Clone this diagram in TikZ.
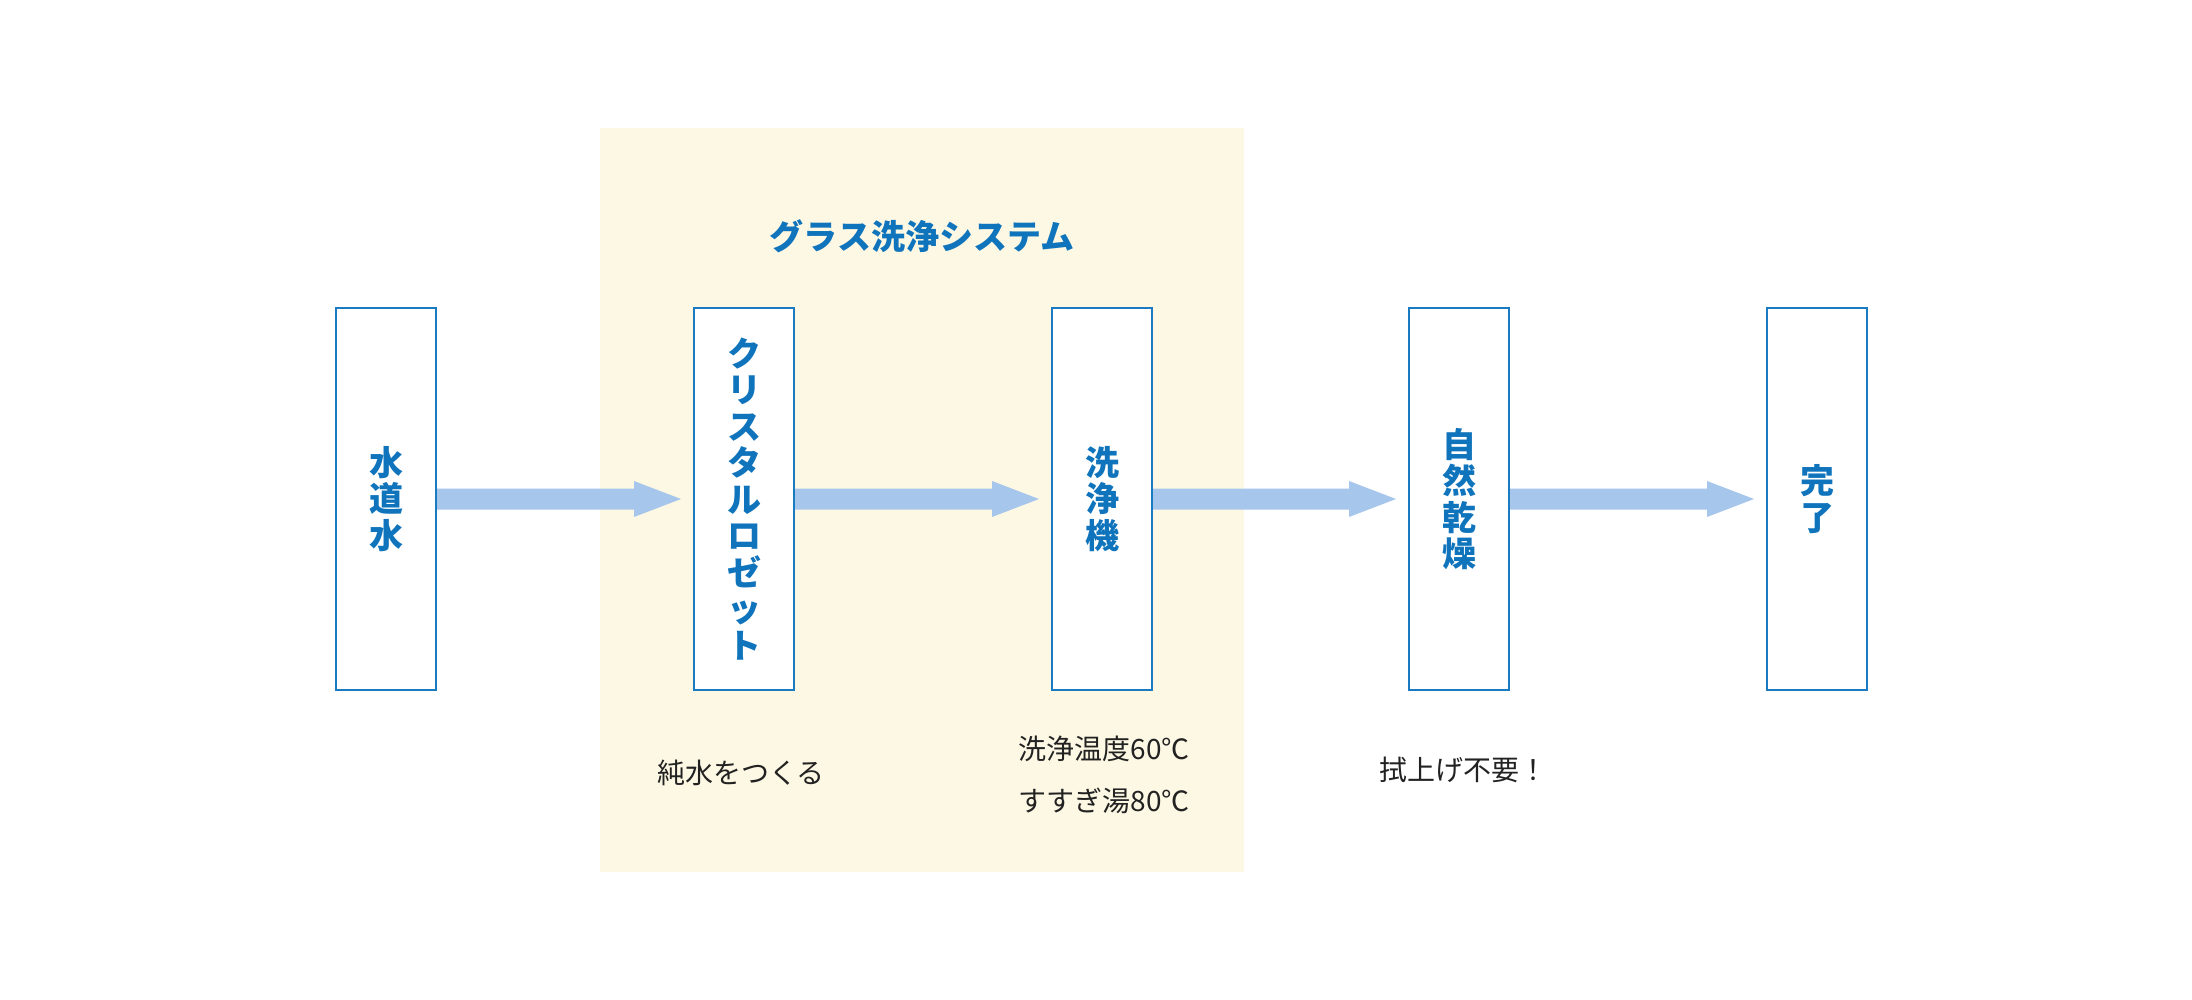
\documentclass[tikz,border=0pt]{standalone}
\usepackage{fontspec}
\newfontfamily\jp{Noto Sans CJK JP}
\usetikzlibrary{calc}
\definecolor{boxblue}{HTML}{1A7BC3}
\definecolor{txtblue}{HTML}{0F74BC}
\definecolor{arrowblue}{HTML}{A7C6EC}
\definecolor{sysyellow}{HTML}{FDF8E3}
\definecolor{darktext}{HTML}{222222}
\tikzset{
  stagebox/.style={draw=boxblue, line width=2pt, fill=white, minimum width=100pt, minimum height=382pt, inner sep=0pt,
    text=txtblue, font=\jp\bfseries\fontsize{34}{36.5}\selectfont, align=center},
  notetext/.style={text=darktext, font=\jp\fontsize{28}{52}\selectfont, align=center, inner sep=0pt},
  titletext/.style={text=txtblue, font=\jp\bfseries\fontsize{34}{40}\selectfont, inner sep=0pt},
  arrowfill/.style={fill=arrowblue, draw=none}
}
\newcommand\flowarrow[2]{%
  \path let \p1=(#1.east), \p2=(#2.west) in
    [arrowfill] (\x1,\y1-10.5pt) -- (\x2-59pt,\y1-10.5pt) -- (\x2-59pt,\y1-18pt) -- (\x2-12pt,\y1)
    -- (\x2-59pt,\y1+18pt) -- (\x2-59pt,\y1+10.5pt) -- (\x1,\y1+10.5pt) -- cycle;}
\begin{document}
\begin{tikzpicture}[x=1pt,y=-1pt]
\useasboundingbox[fill=white] (0,0) rectangle (2192,1000);
\fill[sysyellow] (600,128) rectangle (1244,872);
\node[titletext] (title) at (922,236) {グラス洗浄システム};
\node[stagebox] (b1) at (386,499) {水\\道\\水};
\node[stagebox] (b2) at (744,499) {ク\\リ\\ス\\タ\\ル\\ロ\\ゼ\\ッ\\ト};
\node[stagebox] (b3) at (1102,499) {洗\\浄\\機};
\node[stagebox] (b4) at (1459,499) {自\\然\\乾\\燥};
\node[stagebox] (b5) at (1817,499) {完\\了};
\flowarrow{b1}{b2}
\flowarrow{b2}{b3}
\flowarrow{b3}{b4}
\flowarrow{b4}{b5}
\node[notetext] (n2) at (741,773) {純水をつくる};
\node[notetext] (n3) at (1104,775) {洗浄温度60℃\\すすぎ湯80℃};
\node[notetext] (n4) at (1463,770) {拭上げ不要！};
\end{tikzpicture}
\end{document}
